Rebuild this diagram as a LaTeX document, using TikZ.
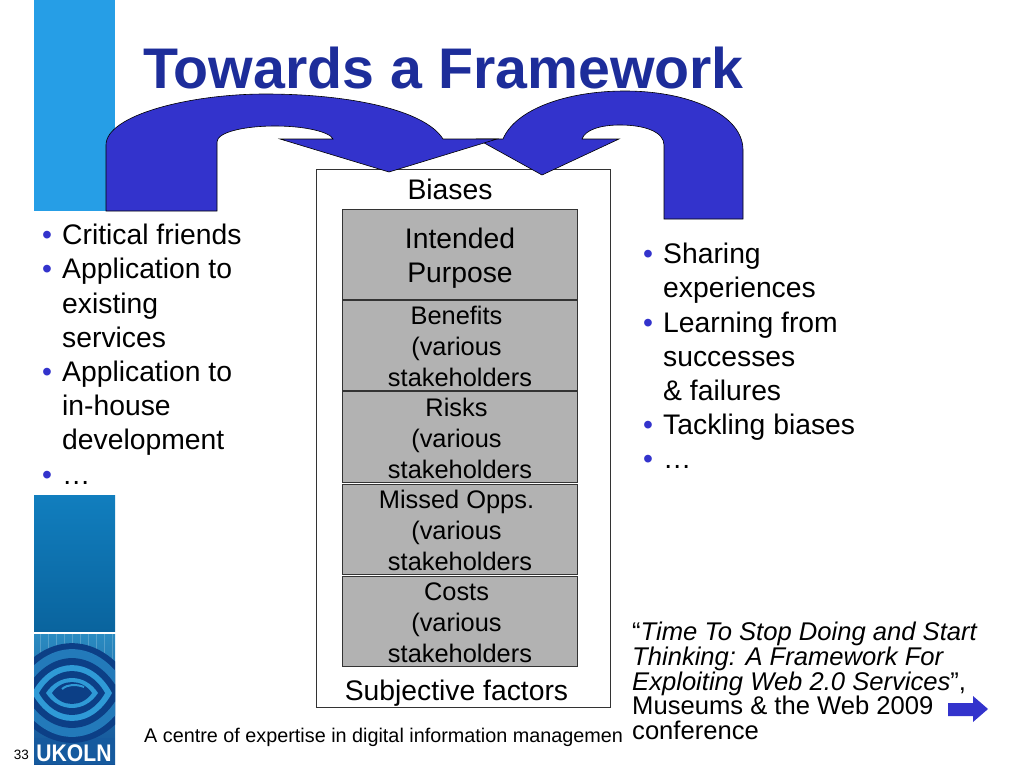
\documentclass[tikz,border=0pt]{standalone}
\usepackage{fontspec}
\setmainfont{Liberation Sans}
\usetikzlibrary{arrows.meta, positioning}

\definecolor{arrowblue}{HTML}{3333CC}
\definecolor{titleblue}{HTML}{1D2D9A}
\definecolor{boxgray}{HTML}{B2B2B2}
\definecolor{ringdark}{HTML}{0C3F86}
\definecolor{ringlight}{HTML}{2F9AD6}
\definecolor{stripblue}{HTML}{269EE6}

\newcommand{\blt}{\makebox[20pt][l]{\textcolor{arrowblue}{•}}}
\newcommand{\ind}{\hspace*{20pt}}
\newcommand{\stacklines}[1]{\mbox{#1\kern7pt}\\\mbox{(various\kern7pt}\\stakeholders}

\tikzset{
    bigarrow/.style={fill=arrowblue, draw=black, line width=0.6pt},
    stackbox/.style={rectangle, draw=black!80, fill=boxgray, line width=0.9pt, minimum width=235pt, inner sep=0pt},
    stacktext/.style={inner sep=0pt, align=center, font=\fontsize{25.4}{31}\selectfont},
    plaintext/.style={inner sep=0pt, font=\fontsize{28.3}{34}\selectfont},
    listtext/.style={inner sep=0pt, anchor=north west, align=left, font=\fontsize{28.3}{34.2}\selectfont},
}

\begin{document}
\begin{tikzpicture}[x=1pt, y=-1pt]
    \useasboundingbox (0,0) rectangle (1024,768);

    % Strips on the left
    \fill[stripblue] (34,0) rectangle (115,211);
    \fill[top color={rgb,255:red,17;green,126;blue,190}, bottom color={rgb,255:red,10;green,100;blue,158}] (34,495) rectangle (115,631);

    % Logo
    \begin{scope}
        \clip (34,634) rectangle (115,764);
        \fill[top color=ringlight!90!black, bottom color=ringdark!80!ringlight] (34,634) rectangle (115,764);
        \draw[white, opacity=0.2, line width=0.5pt] (34,634) grid[step=8] (115,670);
        \fill[ringdark!70!ringlight] (34,738) rectangle (115,764);
        \foreach \rx/\ry/\ringcol in {66/50/ringdark, 58/44/ringlight!65!ringdark, 48/35/ringdark, 40/28/ringlight, 33/22/ringdark, 26/15/ringlight, 20/11/ringdark} {
            \fill[\ringcol] ({72-\rx},693) .. controls ({72-0.5*\rx},{693-1.33*\ry}) and ({72+0.5*\rx},{693-1.33*\ry}) .. ({72+\rx},693)
                .. controls ({72+0.5*\rx},{693+1.33*\ry}) and ({72-0.5*\rx},{693+1.33*\ry}) .. cycle;
        }
        \draw[ringlight, line width=2pt] (62,689) .. controls (68,684) and (76,684) .. (84,687);
    \end{scope}
    \node[inner sep=0pt, text=white, xscale=0.88, font=\fontsize{24}{24}\selectfont\bfseries] (logoname) at (74,753) {UKOLN};
    \node[inner sep=0pt, font=\fontsize{13.5}{14}\selectfont] (pagenum) at (21.5,755) {33};

    % Title
    \node[inner sep=0pt, text=titleblue, font=\fontsize{57.3}{59}\selectfont\bfseries] (title) at (443.5,68) {Towards a Framework};

    % Outer frame and its stack
    \node[rectangle, draw=black!80, line width=0.8pt, minimum width=294pt, minimum height=538pt, inner sep=0pt] (frame) at (463,438) {};
    \node[stackbox, minimum height=90pt] (purpose) at (460,254) {};
    \node[stackbox, minimum height=90pt] (benefits) at (460,345) {};
    \node[stackbox, minimum height=91pt] (risks) at (460,436.5) {};
    \node[stackbox, minimum height=90pt] (missed) at (460,529) {};
    \node[stackbox, minimum height=90pt] (costs) at (460,621) {};
    \node[stacktext, font=\fontsize{28.3}{34}\selectfont] (purposetext) at ([yshift=-4pt]purpose.center) {Intended\\Purpose};
    \node[stacktext] (benefitstext) at ([yshift=-1.5pt]benefits.center) {\stacklines{Benefits}};
    \node[stacktext] (riskstext) at ([yshift=-1.5pt]risks.center) {\stacklines{Risks}};
    \node[stacktext] (missedtext) at ([yshift=-1.5pt]missed.center) {\stacklines{Missed Opps.}};
    \node[stacktext] (coststext) at ([yshift=-1.5pt]costs.center) {\stacklines{Costs}};
    \node[plaintext] (biases) at (450,189) {Biases};
    \node[plaintext] (subjective) at (456.5,693) {Subjective factors};

    % Curved arrows
    \draw[bigarrow] (743,219) -- (743,150) .. controls (743,115) and (690,91) .. (625,91)
        .. controls (565,91) and (515,110) .. (503,139) -- (477,139) -- (542,175) -- (619,139) -- (582,139)
        .. controls (585,130) and (600,125) .. (620,125) .. controls (645,125) and (664,132) .. (664,145)
        -- (664,219) -- cycle;
    \draw[bigarrow] (106,211) -- (106,145) .. controls (106,115) and (190,94) .. (265,94)
        .. controls (350,94) and (425,110) .. (443,139) -- (497,139) -- (389,172) -- (280,139) -- (333,139)
        .. controls (330,132) and (305,126) .. (275,126) .. controls (245,126) and (217,132) .. (217,142)
        -- (217,211) -- cycle;

    % Lists
    \node[listtext] (leftlist) at (42,224) {\blt Critical friends\\\blt Application to\\\ind existing\\\ind services\\\blt Application to\\\ind in-house\\\ind development\\\blt …};
    \node[listtext] (rightlist) at (643,243) {\blt Sharing\\\ind experiences\\\blt Learning from\\\ind successes\\\ind \& failures\\\blt Tackling biases\\\blt …};

    % Footer and reference
    \node[inner sep=0pt, anchor=west, font=\fontsize{19.8}{20}\selectfont] (strapline) at (144,737) {A centre of expertise in digital information managemen};
    \node[inner sep=0pt, anchor=north west, align=left, font=\fontsize{25.6}{24.7}\selectfont] (reference) at (632,622) {“\textit{Time To Stop Doing and Start}\\\textit{Thinking: A Framework For}\\\textit{Exploiting Web 2.0 Services}”,\\Museums \& the Web 2009\\conference};
    \fill[arrowblue] (948,703) -- (973,703) -- (973,696) -- (988,709) -- (973,722) -- (973,716) -- (948,716) -- cycle;
\end{tikzpicture}
\end{document}
